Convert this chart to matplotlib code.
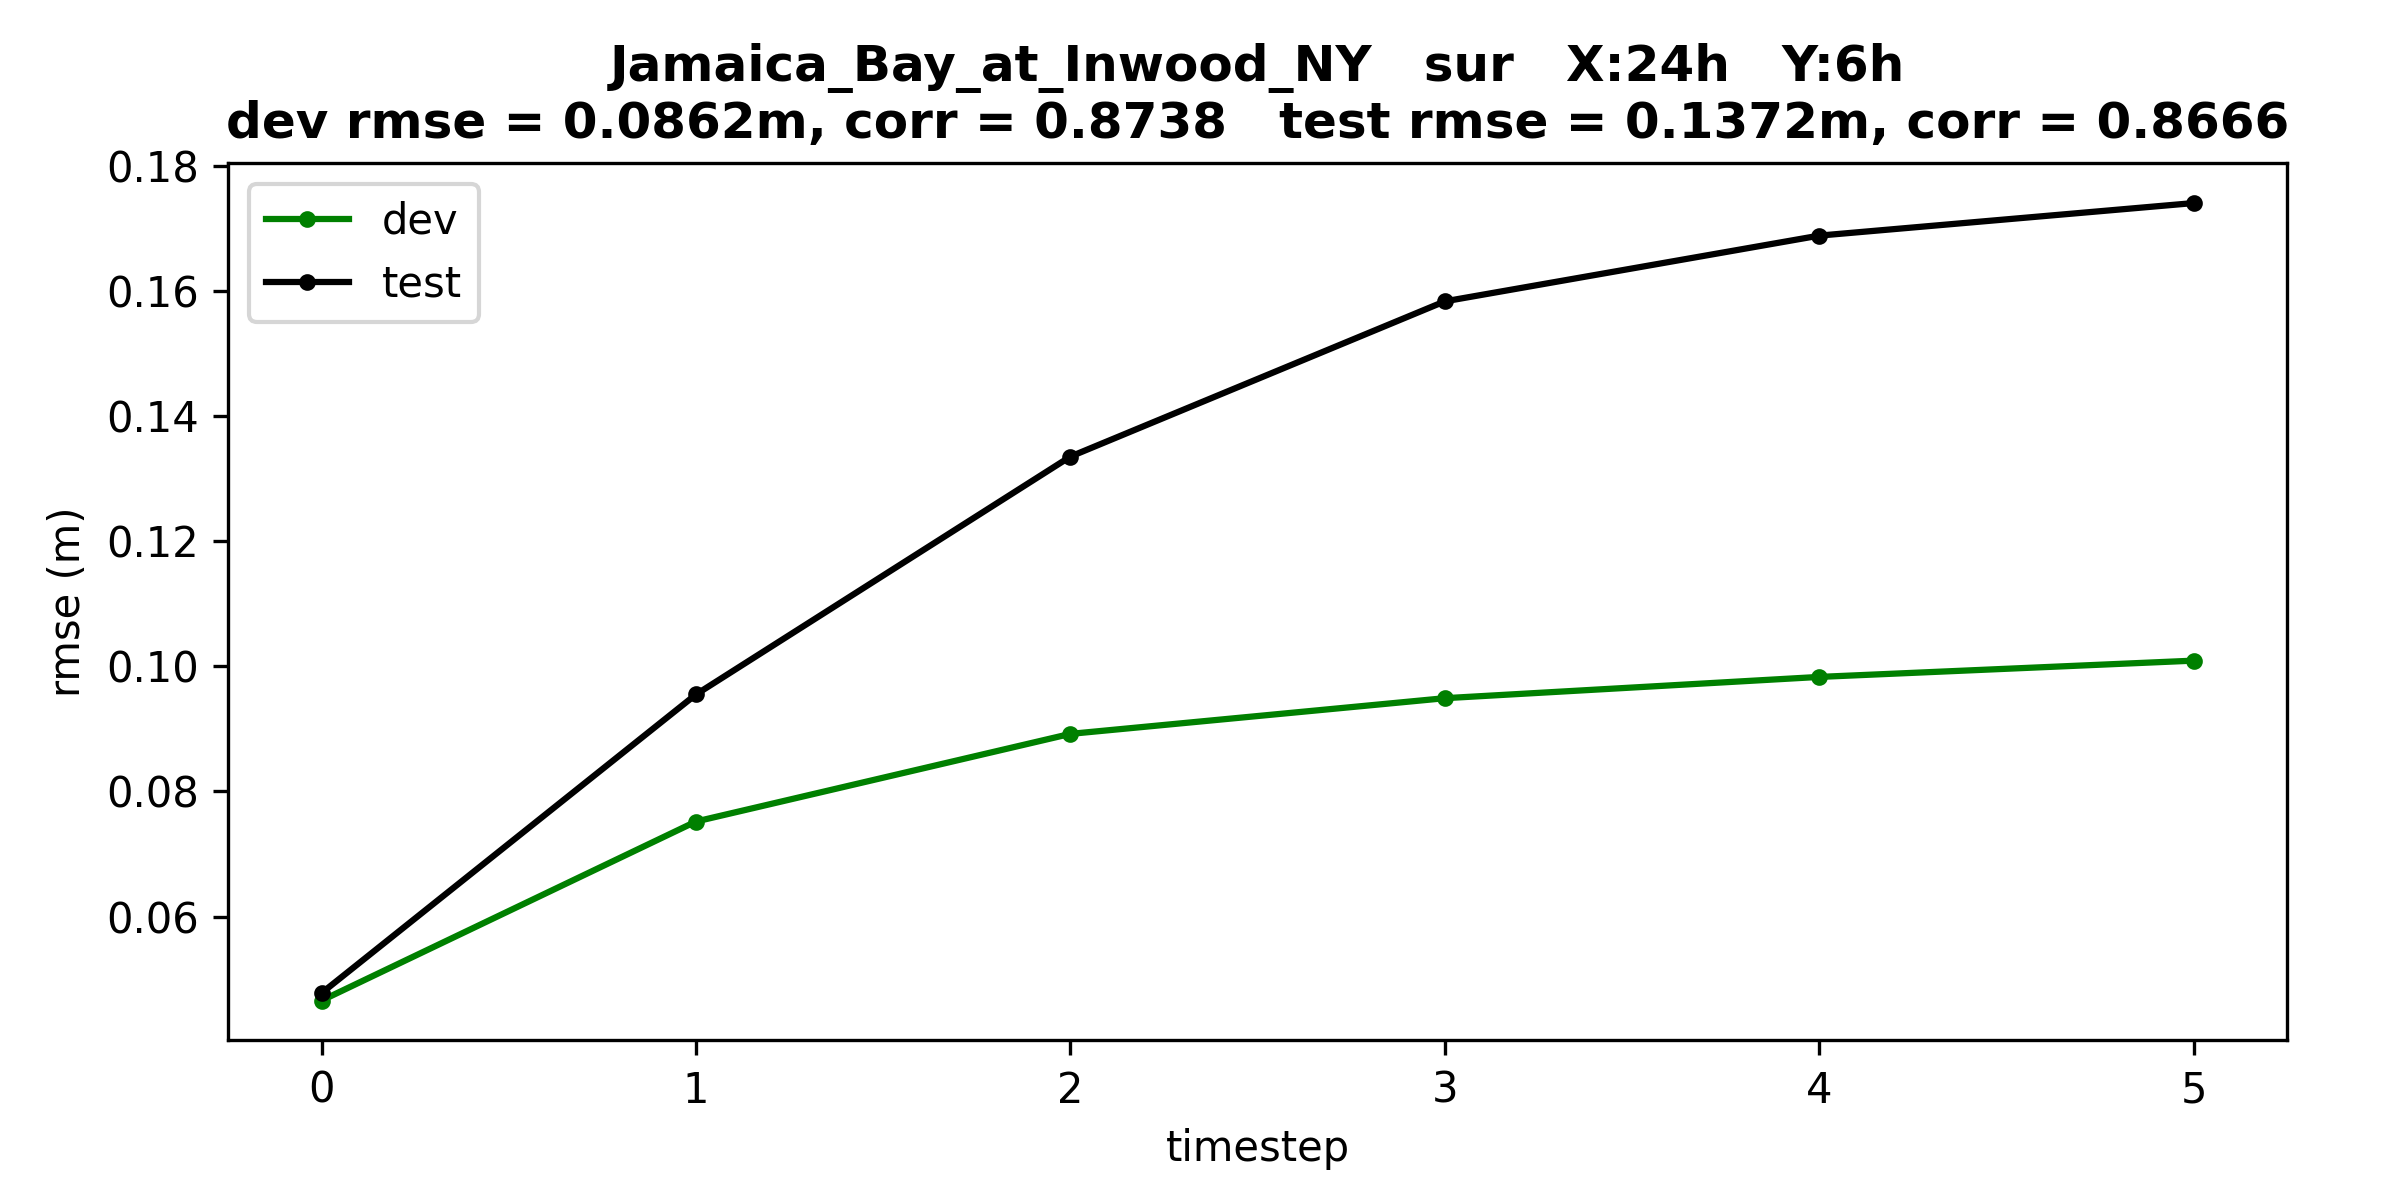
import matplotlib
matplotlib.use('Agg')
from matplotlib import pyplot

timestep = [0, 1, 2, 3, 4, 5]
dev_rmse = [0.0466, 0.0752, 0.0892, 0.0949, 0.0983, 0.1009]
test_rmse = [0.0478, 0.0955, 0.1335, 0.1583, 0.1688, 0.1740]

title = ('Jamaica_Bay_at_Inwood_NY   sur   X:24h   Y:6h\n'
         'dev rmse = 0.0862m, corr = 0.8738   test rmse = 0.1372m, corr = 0.8666')

fig, axes = pyplot.subplots(1)
fig.set_size_inches(8, 4)
fig.subplots_adjust(left=0.095, right=0.953, top=0.864, bottom=0.133)

axes.plot(timestep, dev_rmse, color='green', marker='o', markersize=3, linewidth=1.5, label='dev')
axes.plot(timestep, test_rmse, color='black', marker='o', markersize=3, linewidth=1.5, label='test')

axes.set_xlabel('timestep')
axes.set_ylabel('rmse (m)')
axes.set_title(title, fontsize=12, fontweight='bold')
axes.legend(loc='upper left')
pyplot.savefig('out.png', dpi=300)
